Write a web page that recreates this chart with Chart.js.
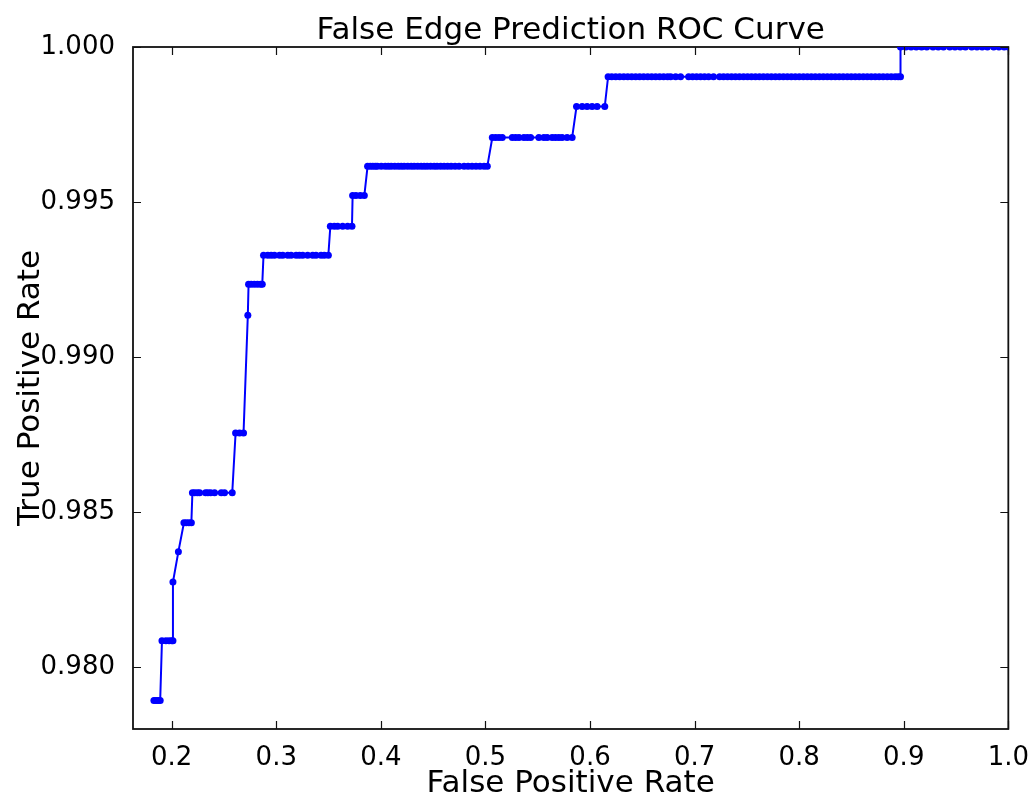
<!DOCTYPE html>
<html>
<head>
<meta charset="utf-8">
<title>False Edge Prediction ROC Curve</title>
<script src="https://cdn.jsdelivr.net/npm/chart.js@4/dist/chart.umd.min.js"></script>
<style>
  html, body { margin: 0; padding: 0; background: #fff; }
  #chart { display: block; }
</style>
</head>
<body>
<canvas id="chart" width="1035" height="799"></canvas>
<script>
// true positive rate of each step of the curve
const tprLevels = [
    0.97892, 0.98085, 0.98274, 0.98372, 0.98465, 0.98562, 0.98755, 0.99135, 0.99235,
    0.99328, 0.99422, 0.99521, 0.99615, 0.99708, 0.99808, 0.99904, 1.0
];

// false positive rates of the thresholds sitting on each step
const fprByLevel = [
    [0.183, 0.185, 0.187, 0.189],
    [0.1907, 0.1945, 0.1975, 0.2000, 0.2012],
    [0.2012],
    [0.2064],
    [0.2117, 0.2140, 0.2165, 0.2188],
    [0.2198, 0.2219, 0.2245, 0.2267, 0.2324, 0.2346, 0.2372, 0.2410, 0.2474, 0.2505, 0.2579],
    [0.2611, 0.2649, 0.2687],
    [0.2728],
    [0.2735, 0.2760, 0.2790, 0.2820, 0.2850, 0.2866],
    [0.2878, 0.2919, 0.2951, 0.2983, 0.3031, 0.3062, 0.3110, 0.3142, 0.3190, 0.3221,
     0.3253, 0.3300, 0.3348, 0.3380, 0.3428, 0.3459, 0.3498],
    [0.3517, 0.3555, 0.3587, 0.3635, 0.3682, 0.3724],
    [0.3730, 0.3762, 0.3803, 0.3842],
    [0.3873, 0.3899, 0.3923, 0.3947, 0.3966, 0.4004, 0.4042, 0.4071, 0.4099, 0.4133,
     0.4166, 0.4195, 0.4223, 0.4257, 0.4290, 0.4319, 0.4352, 0.4385, 0.4414, 0.4443,
     0.4476, 0.4510, 0.4538, 0.4572, 0.4605, 0.4638, 0.4672, 0.4710, 0.4748, 0.4796,
     0.4834, 0.4872, 0.4910, 0.4948, 0.4987, 0.5018],
    [0.5066, 0.5098, 0.5130, 0.5161, 0.5257, 0.5289, 0.5321, 0.5368, 0.5400, 0.5432,
     0.5511, 0.5559, 0.5590, 0.5638, 0.5670, 0.5702, 0.5733, 0.5781, 0.5829],
    [0.5871, 0.5925, 0.5972, 0.6020, 0.6068, 0.6141],
    [0.6173, 0.6208, 0.6246, 0.6284, 0.6323, 0.6361, 0.6399, 0.6437, 0.6475, 0.6513,
     0.6552, 0.6590, 0.6628, 0.6666, 0.6704, 0.6742, 0.6771, 0.6819, 0.6866, 0.6943,
     0.6981, 0.7019, 0.7057, 0.7095, 0.7134, 0.7181, 0.7239, 0.7277, 0.7315, 0.7353,
     0.7391, 0.7429, 0.7468, 0.7506, 0.7544, 0.7582, 0.7620, 0.7658, 0.7696, 0.7734,
     0.7773, 0.7811, 0.7849, 0.7887, 0.7925, 0.7963, 0.8001, 0.8040, 0.8078, 0.8116,
     0.8154, 0.8193, 0.8231, 0.8269, 0.8307, 0.8345, 0.8383, 0.8421, 0.8460, 0.8498,
     0.8536, 0.8574, 0.8613, 0.8651, 0.8689, 0.8727, 0.8765, 0.8803, 0.8842, 0.8880,
     0.8918, 0.8947, 0.8969],
    [0.8969, 0.902, 0.907, 0.912, 0.917, 0.922, 0.928, 0.933, 0.938, 0.944, 0.949,
     0.954, 0.959, 0.965, 0.970, 0.975, 0.980, 0.986, 0.991, 0.996, 1.0]
];

const xTicks = [0.2, 0.3, 0.4, 0.5, 0.6, 0.7, 0.8, 0.9, 1.0];
const yTicks = [0.980, 0.985, 0.990, 0.995, 1.000];

const rocPoints = [];
fprByLevel.forEach((xs, i) => {
    xs.forEach(v => rocPoints.push({ x: v, y: tprLevels[i] }));
});

const FONT = 'DejaVu Sans';
const TICK_LEN = 8;

// box round the plot, drawn under the curve
const frameBox = {
    id: 'frameBox',
    beforeDatasetsDraw(chart) {
        const { ctx, chartArea: a } = chart;
        ctx.save();
        ctx.strokeStyle = '#111';
        ctx.lineWidth = 1.8;
        ctx.strokeRect(a.left, a.top, a.right - a.left, a.bottom - a.top);
        ctx.restore();
    },
    // inward tick marks on all four sides, title centred over the plot
    afterDatasetsDraw(chart) {
        const { ctx, chartArea: a, scales: { x, y } } = chart;
        ctx.save();
        ctx.strokeStyle = '#111';
        ctx.lineWidth = 1.2;
        ctx.beginPath();
        x.ticks.forEach(t => {
            const px = Math.round(x.getPixelForValue(t.value)) + 0.5;
            ctx.moveTo(px, a.bottom); ctx.lineTo(px, a.bottom - TICK_LEN);
            ctx.moveTo(px, a.top); ctx.lineTo(px, a.top + TICK_LEN);
        });
        y.ticks.forEach(t => {
            const py = Math.round(y.getPixelForValue(t.value)) + 0.5;
            ctx.moveTo(a.left, py); ctx.lineTo(a.left + TICK_LEN, py);
            ctx.moveTo(a.right, py); ctx.lineTo(a.right - TICK_LEN, py);
        });
        ctx.stroke();

        ctx.fillStyle = '#000';
        ctx.font = '31px "' + FONT + '"';
        ctx.textAlign = 'center';
        ctx.textBaseline = 'alphabetic';
        ctx.fillText('False Edge Prediction ROC Curve', (a.left + a.right) / 2, a.top - 8);
        ctx.restore();
    }
};

const chart = document.querySelector('#chart').getContext('2d');

new Chart(chart, {
    type: 'scatter',
    data: {
        datasets: [{
            data: rocPoints,
            showLine: true,
            borderColor: '#0000ff',
            backgroundColor: '#0000ff',
            borderWidth: 2,
            pointRadius: 3.5,
            pointBorderWidth: 0,
            pointHoverRadius: 3.5,
            tension: 0,
            clip: 0
        }]
    },
    options: {
        responsive: false,
        animation: false,
        layout: { padding: { left: 0, right: 25, top: 47, bottom: 0 } },
        plugins: {
            legend: { display: false },
            tooltip: { enabled: false },
            title: { display: false }
        },
        scales: {
            x: {
                type: 'linear',
                min: 0.163,
                max: 1.0,
                grid: { display: false },
                border: { display: false },
                afterBuildTicks: s => { s.ticks = xTicks.map(v => ({ value: v })); },
                afterFit: s => { s.height = 70; },
                ticks: {
                    color: '#000',
                    padding: 6,
                    maxRotation: 0,
                    font: { family: FONT, size: 26 },
                    callback: v => v.toFixed(1)
                },
                title: {
                    display: true,
                    text: 'False Positive Rate',
                    color: '#000',
                    font: { family: FONT, size: 31, lineHeight: 1 },
                    padding: { top: 0, bottom: 0 }
                }
            },
            y: {
                type: 'linear',
                min: 0.978,
                max: 1.0,
                grid: { display: false },
                border: { display: false },
                afterBuildTicks: s => { s.ticks = yTicks.map(v => ({ value: v })); },
                afterFit: s => { s.width = 133; },
                ticks: {
                    color: '#000',
                    padding: 10,
                    font: { family: FONT, size: 26 },
                    callback: v => v.toFixed(3)
                },
                title: {
                    display: true,
                    text: 'True Positive Rate',
                    color: '#000',
                    font: { family: FONT, size: 31, lineHeight: 1 },
                    padding: { top: 15, bottom: 0 }
                }
            }
        }
    },
    plugins: [frameBox]
});
</script>
</body>
</html>
